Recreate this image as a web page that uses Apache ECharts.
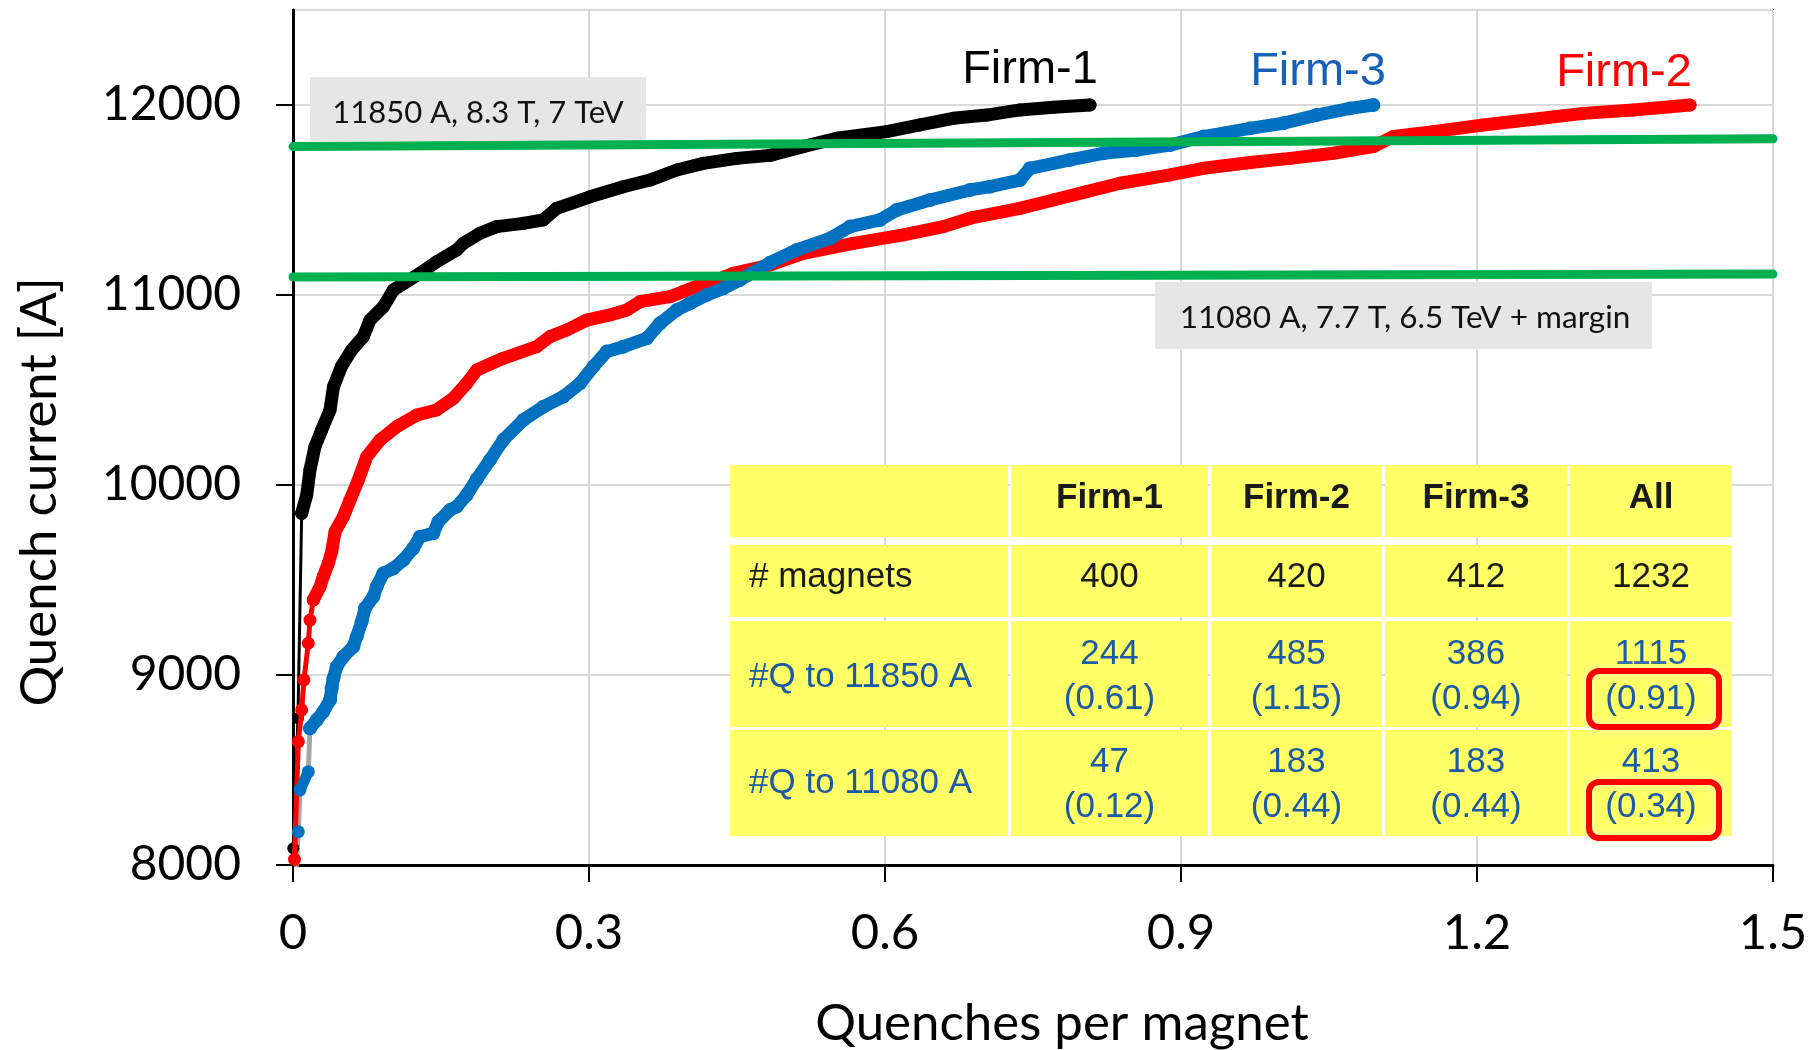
<!DOCTYPE html>
<html>
<head>
<meta charset="utf-8">
<script src="https://cdn.jsdelivr.net/npm/echarts@6/dist/echarts.min.js"></script>
<style>
  html, body { margin: 0; padding: 0; background: #ffffff; }
  #chart { width: 1820px; height: 1050px; }
</style>
</head>
<body>
<div id="chart"></div>
<script>
// ---------------- DATA ----------------
const xTicks = [0, 0.3, 0.6, 0.9, 1.2, 1.5];
const yTicks = [8000, 9000, 10000, 11000, 12000];

const firmNames = ['Firm-1', 'Firm-2', 'Firm-3'];

// Firm-1 (black): sparse start, then main curve
const firm1Lead = [[0.0003, 8088], [0.005, 8772], [0.0088, 9851]];
const firm1 = [[0.0088, 9851], [0.0139, 9947], [0.0172, 10079], [0.0223, 10202], [0.029, 10289], [0.0375, 10395],
  [0.041, 10517], [0.049, 10623], [0.0595, 10711], [0.0713, 10781], [0.078, 10868], [0.0915, 10938],
  [0.1017, 11026], [0.115, 11070], [0.1287, 11114], [0.1456, 11175], [0.166, 11237], [0.1726, 11272],
  [0.1895, 11325], [0.2064, 11360], [0.2334, 11377], [0.2537, 11395], [0.2672, 11456], [0.301, 11517],
  [0.3348, 11570], [0.3618, 11605], [0.3889, 11658], [0.4159, 11693], [0.4497, 11719], [0.4834, 11735],
  [0.517, 11781], [0.551, 11825], [0.6017, 11860], [0.6355, 11895], [0.6692, 11930], [0.703, 11947],
  [0.7368, 11974], [0.7706, 11988], [0.8078, 12000]];

// Firm-2 (red)
const firm2Lead = [[0.0015, 8030], [0.0054, 8649], [0.0088, 8816], [0.0111, 8974], [0.0155, 9167],
  [0.0172, 9289], [0.0206, 9395]];
const firm2 = [[0.0206, 9395], [0.0274, 9465], [0.0307, 9518], [0.0358, 9588], [0.0392, 9649], [0.0426, 9754],
  [0.051, 9833], [0.0578, 9921], [0.0662, 10026], [0.0747, 10149], [0.0882, 10237], [0.1051, 10307],
  [0.1254, 10368], [0.1456, 10395], [0.1625, 10456], [0.176, 10535], [0.1862, 10605], [0.2131, 10667],
  [0.247, 10728], [0.2605, 10781], [0.2774, 10816], [0.2977, 10868], [0.3213, 10895], [0.3382, 10921],
  [0.3517, 10965], [0.3821, 10991], [0.3956, 11018], [0.4125, 11053], [0.4294, 11079], [0.4463, 11114],
  [0.4834, 11158], [0.5172, 11219], [0.5679, 11272], [0.6186, 11316], [0.6591, 11360], [0.6862, 11404],
  [0.7368, 11456], [0.7706, 11500], [0.8044, 11544], [0.8382, 11588], [0.8889, 11632], [0.9226, 11667],
  [0.97, 11697], [1.0105, 11719], [1.0544, 11746], [1.0949, 11781], [1.1152, 11834], [1.1557, 11860],
  [1.2064, 11895], [1.2571, 11925], [1.3078, 11956], [1.3584, 11974], [1.4159, 12000]];

// Firm-3 (blue): a few isolated early points, a grey connector, then main curve
const firm3Lead = [[0.0054, 8175], '-', [0.0071, 8395], [0.0155, 8491]];
const greyLead = [[0.0035, 8000], [0.0054, 8175], [0.0071, 8395], [0.0155, 8491], [0.0172, 8719]];
const firm3 = [[0.0172, 8719], [0.024, 8763], [0.0307, 8807], [0.0375, 8868], [0.0392, 8930], [0.0409, 8982],
  [0.0443, 9044], [0.051, 9096], [0.0611, 9149], [0.0646, 9202], [0.0696, 9281], [0.073, 9351],
  [0.0814, 9412], [0.0848, 9465], [0.0915, 9535], [0.1017, 9561], [0.1118, 9605], [0.1219, 9667],
  [0.1287, 9728], [0.1422, 9746], [0.1473, 9807], [0.1591, 9868], [0.1659, 9886], [0.176, 9947],
  [0.1862, 10030], [0.1997, 10132], [0.2131, 10237], [0.2334, 10342], [0.2537, 10412], [0.274, 10465],
  [0.2909, 10535], [0.3044, 10623], [0.3179, 10702], [0.3348, 10728], [0.3585, 10772], [0.372, 10851],
  [0.3889, 10921], [0.4024, 10956], [0.4193, 11000], [0.4361, 11035], [0.453, 11079], [0.4834, 11170],
  [0.5105, 11237], [0.5443, 11298], [0.5645, 11360], [0.5949, 11395], [0.6118, 11447], [0.6456, 11500],
  [0.6862, 11553], [0.7064, 11570], [0.7368, 11605], [0.747, 11667], [0.7875, 11711], [0.8213, 11746],
  [0.8551, 11763], [0.8889, 11789], [0.9226, 11834], [0.97, 11877], [1.0037, 11904], [1.0375, 11947],
  [1.0713, 11982], [1.0949, 12000]];

// Reference current lines as drawn
const line11850 = [[0, 11781], [1.5, 11822]];
const line11080 = [[0, 11095], [1.5, 11110]];
const label11850 = '11850 A, 8.3 T, 7 TeV';
const label11080 = '11080 A, 7.7 T, 6.5 TeV + margin';

// Table
const tableHeader = ['', 'Firm-1', 'Firm-2', 'Firm-3', 'All'];
const rowLabels = ['# magnets', '#Q to 11850 A', '#Q to 11080 A'];
const magnets = ['400', '420', '412', '1232'];
const q11850 = ['244', '485', '386', '1115'];
const q11850PerMagnet = ['(0.61)', '(1.15)', '(0.94)', '(0.91)'];
const q11080 = ['47', '183', '183', '413'];
const q11080PerMagnet = ['(0.12)', '(0.44)', '(0.44)', '(0.34)'];

// ---------------- STYLE / LAYOUT ----------------
const BLACK = '#000000', RED = '#FF0000', BLUE = '#0070C0', GREEN = '#00B050', GREY = '#A6A6A6';
const TXT_BLUE = '#1A5AA6';
const YELLOW = '#FFFF66';
const CAL = 'Lato, "Open Sans", sans-serif';
const ARIAL = '"Liberation Sans", Arial, sans-serif';

const chart = echarts.init(document.getElementById('chart'), null, { renderer: 'canvas' });

function lineSeries(data, color, width, symSize, z) {
  return {
    type: 'line', data: data, silent: true, animation: false, z: z || 3,
    symbol: symSize ? 'circle' : 'none', symbolSize: symSize || 0, showSymbol: !!symSize,
    itemStyle: { color: color },
    lineStyle: { color: color, width: width, cap: 'round', join: 'round' },
    connectNulls: false
  };
}

// table geometry
const colX = [[730, 1008], [1011, 1208], [1211, 1382], [1385, 1567], [1570, 1732]];
const rowY = [[465, 537], [545, 617], [621, 727], [730, 836]];
const graphics = [];
rowY.forEach(function (r) {
  colX.forEach(function (c) {
    graphics.push({ type: 'rect', z: 5, shape: { x: c[0], y: r[0], width: c[1] - c[0], height: r[1] - r[0] },
      style: { fill: YELLOW } });
  });
});
function cellText(text, x, y, color, bold, align) {
  graphics.push({ type: 'text', z: 6, x: x, y: y,
    style: { text: text, fill: color, font: (bold ? 'bold ' : '') + '35px ' + ARIAL,
      align: align || 'center', verticalAlign: 'middle' } });
}
const colCenter = colX.map(function (c) { return (c[0] + c[1]) / 2; });
tableHeader.forEach(function (h, i) { if (h) cellText(h, colCenter[i], 498, '#1a1a1a', true); });
cellText(rowLabels[0], 749, 577, '#1a1a1a', false, 'left');
cellText(rowLabels[1], 749, 677, TXT_BLUE, false, 'left');
cellText(rowLabels[2], 749, 783, TXT_BLUE, false, 'left');
for (let i = 0; i < 4; i++) {
  cellText(magnets[i], colCenter[i + 1], 577, '#1a1a1a');
  cellText(q11850[i], colCenter[i + 1], 654, TXT_BLUE);
  cellText(q11850PerMagnet[i], colCenter[i + 1], 699, TXT_BLUE);
  cellText(q11080[i], colCenter[i + 1], 762, TXT_BLUE);
  cellText(q11080PerMagnet[i], colCenter[i + 1], 807, TXT_BLUE);
}
// red highlight boxes with a soft glow
[671, 782].forEach(function (y) {
  graphics.push({ type: 'rect', z: 7, shape: { x: 1589, y: y, width: 130, height: 56, r: 10 },
    style: { fill: null, stroke: RED, lineWidth: 6, shadowBlur: 8, shadowColor: 'rgba(255,255,200,0.9)' } });
});

// label boxes
graphics.push({ type: 'rect', z: 1, shape: { x: 310, y: 77, width: 336, height: 64 }, style: { fill: '#E6E6E6' } });
graphics.push({ type: 'text', z: 2, x: 478, y: 113,
  style: { text: label11850, fill: '#111', font: '31px ' + CAL, align: 'center', verticalAlign: 'middle' } });
graphics.push({ type: 'rect', z: 1, shape: { x: 1155, y: 282, width: 497, height: 67 }, style: { fill: '#E6E6E6' } });
graphics.push({ type: 'text', z: 2, x: 1405, y: 318,
  style: { text: label11080, fill: '#111', font: '31.5px ' + CAL, align: 'center', verticalAlign: 'middle' } });

// firm labels
const firmLabelPos = [[1030, 70, BLACK], [1624, 73, RED], [1318, 72, '#1660B8']];
firmNames.forEach(function (n, i) {
  const p = firmLabelPos[i];
  graphics.push({ type: 'text', z: 8, x: p[0], y: p[1],
    style: { text: n, fill: p[2], font: '47px ' + ARIAL, align: 'center', verticalAlign: 'middle' } });
});

// axis titles
graphics.push({ type: 'text', z: 8, x: 1062, y: 1024,
  style: { text: 'Quenches per magnet', fill: '#000', font: '51px ' + CAL, align: 'center', verticalAlign: 'middle' } });
graphics.push({ type: 'text', z: 8, x: 40, y: 492, rotation: Math.PI / 2,
  style: { text: 'Quench current [A]', fill: '#000', font: '51px ' + CAL, align: 'center', verticalAlign: 'middle' } });

const option = {
  animation: false,
  backgroundColor: '#ffffff',
  grid: { left: 293, right: 47, top: 10, bottom: 185, containLabel: false, outerBoundsMode: 'none',
    show: true, borderColor: '#000', borderWidth: 2, backgroundColor: 'transparent' },
  xAxis: {
    type: 'value', min: xTicks[0], max: xTicks[xTicks.length - 1], interval: 0.3,
    axisLine: { show: true, onZero: false, lineStyle: { color: '#000', width: 3 } },
    axisTick: { show: true, length: 17, lineStyle: { color: '#000', width: 2 } },
    axisLabel: { margin: 44, fontSize: 49, fontFamily: CAL, color: '#000',
      formatter: function (v) { return String(Math.round(v * 10) / 10); } },
    splitLine: { show: true, lineStyle: { color: '#D9D9D9', width: 2 } }
  },
  yAxis: {
    type: 'value', min: yTicks[0], max: 12500, interval: 1000,
    axisLine: { show: true, onZero: false, lineStyle: { color: '#000', width: 3 } },
    axisTick: { show: true, length: 17, lineStyle: { color: '#000', width: 2 } },
    axisLabel: { margin: 52, fontSize: 48, fontFamily: CAL, color: '#000', showMaxLabel: false,
      formatter: function (v) { return yTicks.indexOf(v) >= 0 ? String(v) : ''; } },
    splitLine: { show: true, lineStyle: { color: '#D9D9D9', width: 2 } }
  },
  series: [
    lineSeries(greyLead, GREY, 5, 0, 2),
    lineSeries(firm1Lead, BLACK, 3, 12, 3),
    lineSeries(firm1, BLACK, 13, 13, 3),
    lineSeries(firm2Lead, RED, 5, 13, 4),
    lineSeries(firm2, RED, 13, 13, 4),
    lineSeries(firm3Lead, BLUE, 11, 13, 5),
    lineSeries(firm3, BLUE, 13, 14, 5),
    lineSeries(line11850, GREEN, 9, 0, 9),
    lineSeries(line11080, GREEN, 9, 0, 9)
  ],
  graphic: graphics
};
chart.setOption(option);
</script>
</body>
</html>
